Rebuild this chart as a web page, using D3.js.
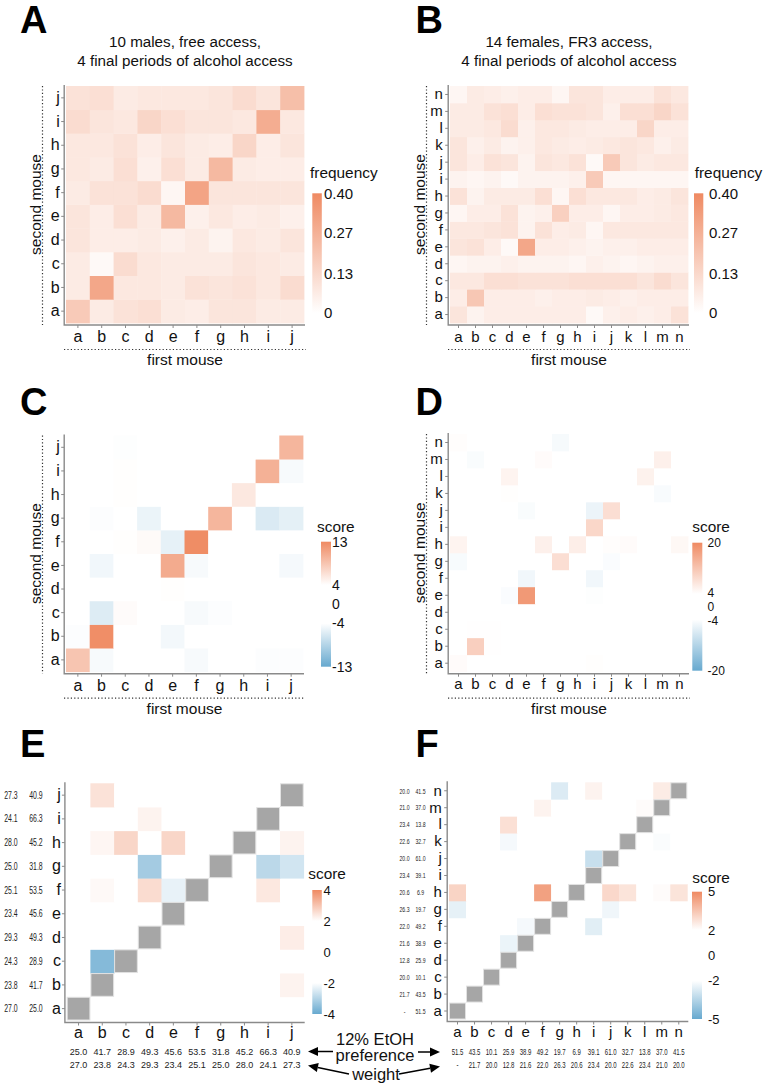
<!DOCTYPE html>
<html><head><meta charset="utf-8">
<script src="https://cdn.jsdelivr.net/npm/d3@7"></script>
<style>body{margin:0;background:#fff}svg{display:block}text{font-family:"Liberation Sans",Arial,sans-serif}</style>
</head><body><svg id="c" width="768" height="1088"></svg>
<script>
// ---------- data ----------
const mice10 = ["a","b","c","d","e","f","g","h","i","j"];
const mice14 = ["a","b","c","d","e","f","g","h","i","j","k","l","m","n"];

// rows = second mouse (a..), columns = first mouse (a..)
const freqA = [
 [0.18,0.07,0.10,0.11,0.07,0.06,0.09,0.09,0.07,0.07],
 [0.07,0.30,0.08,0.08,0.07,0.10,0.09,0.10,0.08,0.12],
 [0.07,0.02,0.12,0.08,0.07,0.07,0.07,0.09,0.08,0.07],
 [0.09,0.06,0.06,0.07,0.05,0.07,0.04,0.08,0.07,0.09],
 [0.09,0.06,0.11,0.07,0.24,0.05,0.08,0.06,0.07,0.05],
 [0.07,0.10,0.10,0.12,0.03,0.31,0.09,0.09,0.09,0.09],
 [0.08,0.07,0.11,0.05,0.11,0.07,0.24,0.07,0.06,0.06],
 [0.08,0.08,0.10,0.06,0.09,0.07,0.06,0.14,0.06,0.09],
 [0.12,0.09,0.08,0.14,0.11,0.09,0.09,0.08,0.28,0.08],
 [0.10,0.11,0.07,0.08,0.08,0.08,0.09,0.12,0.09,0.22]
];
const freqB = [
 [0.09,0.04,0.06,0.06,0.06,0.06,0.06,0.06,0.02,0.05,0.06,0.05,0.06,0.10],
 [0.06,0.19,0.06,0.06,0.06,0.05,0.06,0.06,0.07,0.06,0.05,0.06,0.06,0.06],
 [0.08,0.08,0.11,0.11,0.10,0.10,0.10,0.11,0.11,0.11,0.11,0.09,0.12,0.09],
 [0.03,0.04,0.04,0.05,0.04,0.04,0.04,0.03,0.05,0.04,0.03,0.04,0.05,0.05],
 [0.09,0.10,0.06,0.02,0.30,0.06,0.06,0.05,0.04,0.05,0.05,0.06,0.06,0.06],
 [0.08,0.08,0.09,0.10,0.04,0.10,0.06,0.07,0.03,0.08,0.08,0.08,0.08,0.08],
 [0.03,0.06,0.06,0.10,0.04,0.05,0.16,0.06,0.06,0.03,0.06,0.06,0.07,0.08],
 [0.10,0.04,0.07,0.07,0.07,0.11,0.03,0.11,0.08,0.08,0.08,0.06,0.07,0.09],
 [0.04,0.03,0.04,0.02,0.04,0.04,0.04,0.05,0.18,0.03,0.03,0.03,0.03,0.03],
 [0.09,0.06,0.10,0.09,0.04,0.09,0.08,0.10,0.02,0.18,0.09,0.07,0.08,0.08],
 [0.09,0.05,0.07,0.04,0.05,0.08,0.07,0.06,0.07,0.08,0.09,0.08,0.05,0.07],
 [0.07,0.07,0.08,0.12,0.05,0.08,0.08,0.07,0.06,0.06,0.06,0.14,0.06,0.06],
 [0.07,0.07,0.10,0.11,0.06,0.11,0.10,0.10,0.09,0.05,0.11,0.11,0.14,0.10],
 [0.03,0.07,0.06,0.05,0.06,0.06,0.03,0.09,0.09,0.06,0.06,0.06,0.10,0.08]
];
const scoreC = [
 [8.5,-4.5,0,0,0,-4.5,0,0,-4.2,-4.2],
 [-4.2,12.7,0,0,-4.7,0,0,0,0,0],
 [0,-6,4.3,0,0,-4.5,-4.2,0,0,0],
 [0,0,0,0,4.1,0,0,0,0,0],
 [0,-4.8,0,0,10.5,-4.5,0,0,0,-4.6],
 [0,0,4.1,4.4,-5.5,12.8,0,0,0,0],
 [0,-4.2,0,-5.2,0,0,9.6,0,-6.2,-5.6],
 [0,0,4.1,0,0,0,0,5.8,0,0],
 [0,0,4.1,0,0,0,0,0,10,-4.5],
 [0,0,-4.1,0,0,0,0,0,0,9.6]
];
const scoreD = [
 [4.5,0,0,0,0,0,0,0,4.2,0,0,0,0,0],
 [0,10.5,4.1,0,0,0,0,0,0,0,0,0,0,0],
 [0,4.1,4.1,0,0,0,0,0,0,0,0,0,0,0],
 [0,0,0,0,0,0,0,0,0,0,0,0,0,0],
 [0,0,0,-4.5,18,0,0,0,-4.2,0,0,0,0,0],
 [0,0,0,0,-5.5,0,0,0,-5.5,0,0,0,0,0],
 [-4.8,0,0,0,0,0,8.5,0,0,-4.5,0,0,0,0],
 [5.5,0,0,0,0,6,0,6.3,0,4.3,4.5,0,0,5],
 [0,0,0,0,0,0,0,0,9.5,0,0,0,0,0],
 [0,0,0,0,-4.6,0,0,0,-6,8.5,0,0,0,0],
 [0,0,0,4.2,0,0,0,0,0,0,0,0,-4.7,0],
 [0,0,0,5.5,0,0,0,0,0,0,0,5.8,0,0],
 [0,-4.6,0,0,0,4.5,0,0,0,0,0,0,6,0],
 [4.3,0,0,0,0,0,-5,0,0,0,0,0,0,0]
];
const scoreE = [
 [null,0,0,0,0,0,0,0,0,0],
 [0,null,0,0,0,0,0,0,0,2.2],
 [0,-3.6,null,0,0,0,0,0,0,0],
 [0,0,0,null,0,0,0,0,0,2.3],
 [0,0,0,0,null,0,0,0,0,0],
 [0,2.1,0,2.6,-2.3,null,0,0,2.4,0],
 [0,0,0,-3.2,0,0,null,0,-2.9,-2.6],
 [0,2.15,2.7,0,2.7,0,0,null,0,2.2],
 [0,0,0,2.2,0,0,0,0,null,0],
 [0,2.5,0,0,0,0,0,0,0,null]
];
const scoreF = [
 [null,0,0,0,0,0,0,0,0,0,0,0,0,0],
 [0,null,0,0,0,0,0,0,0,0,0,0,0,0],
 [0,0,null,0,0,0,0,0,0,0,0,0,0,0],
 [0,0,0,null,0,0,0,0,0,0,0,0,0,0],
 [0,0,0,-2.4,null,0,0,0,0,0,0,0,0,0],
 [0,0,0,0,-2.2,null,0,0,-2.6,0,0,0,0,0],
 [-2.5,0,0,0,0,0,null,0,0,-2.3,0,0,0,0],
 [3.1,0,0,0,0,4.4,0,null,0,3.0,2.7,0,2.1,2.7],
 [0,0,0,0,0,0,0,0,null,0,0,0,0,0],
 [0,0,0,0,0,0,0,0,-3.1,null,0,0,0,0],
 [0,0,0,-2.2,0,0,0,0,0,0,null,0,-2.1,0],
 [0,0,0,2.8,0,0,0,0,0,0,0,null,0,0],
 [0,0,0,0,0,2.3,0,0,0,0,0,2.1,null,0],
 [0,0,0,0,0,0,-2.7,0,2.3,0,0,0,2.5,null]
];
const weightE = ["27.0","23.8","24.3","29.3","23.4","25.1","25.0","28.0","24.1","27.3"];
const prefE   = ["25.0","41.7","28.9","49.3","45.6","53.5","31.8","45.2","66.3","40.9"];
const weightF = ["-","21.7","20.0","12.8","21.6","22.0","26.3","20.6","23.4","20.0","22.6","23.4","21.0","20.0"];
const prefF   = ["51.5","43.5","10.1","25.9","38.9","49.2","19.7","6.9","39.1","61.0","32.7","13.8","37.0","41.5"];
const freqTicks = [0, 0.13, 0.27, 0.40];
const ticksC = [-13,-4,0,4,13];
const ticksD = [-20,-4,0,4,20];
const ticksE = [-4,-2,0,2,4];
const ticksF = [-5,-2,0,2,5];

// ---------- drawing ----------
const svg = d3.select("#c");
const defs = svg.append("defs");
const ORANGE = "#ef8a62", BLUE = "#67a9cf";
const freqColor = d3.scaleLinear().domain([0,0.4]).range(["#ffffff",ORANGE]).clamp(true);
const scoreColor = (m,t) => d3.scaleLinear().domain([-m,-t,t,m]).range([BLUE,"#ffffff","#ffffff",ORANGE]).clamp(true);

function panel(cfg){
  const g = svg.append("g");
  const x = d3.scaleBand().domain(cfg.cats).range([cfg.x0,cfg.x1]);
  const y = d3.scaleBand().domain(cfg.cats).range([cfg.y1,cfg.y0]);
  const cells = [];
  cfg.data.forEach((row,i)=>row.forEach((v,j)=>cells.push({r:cfg.cats[i],c:cfg.cats[j],v})));
  g.selectAll(null).data(cells.filter(d=>d.v!==null)).join("rect")
    .attr("x",d=>x(d.c)).attr("y",d=>y(d.r))
    .attr("width",x.bandwidth()+0.4).attr("height",y.bandwidth()+0.4)
    .attr("fill",d=>cfg.color(d.v));
  g.selectAll(null).data(cells.filter(d=>d.v===null)).join("rect")
    .attr("x",d=>x(d.c)+0.5).attr("y",d=>y(d.r)+0.5)
    .attr("width",x.bandwidth()-1).attr("height",y.bandwidth()-1)
    .attr("fill","#a6a6a6").attr("stroke","#e2e2e2").attr("stroke-width",1);
  const ax = cfg.x0-1.8, ay = cfg.y1+2;
  const gy = g.append("g").attr("transform",`translate(${ax},0)`)
    .call(d3.axisLeft(y).tickSize(3).tickPadding(cfg.ypad));
  const gx = g.append("g").attr("transform",`translate(0,${ay})`)
    .call(d3.axisBottom(x).tickSize(3).tickPadding(cfg.xpad));
  [gx,gy].forEach(a=>{
    a.select(".domain").remove();
    a.attr("font-family",null).attr("font-size",cfg.tfs);
    a.selectAll("line").attr("stroke","#8a8a8a");
    a.selectAll("text").attr("fill","#111");
  });
  g.append("path").attr("d",`M${ax},${cfg.y0-1}V${ay}H${cfg.x1+1}`)
    .attr("fill","none").attr("stroke","#8a8a8a").attr("stroke-width",1.4);
  // panel letter
  svg.append("text").attr("x",cfg.lx).attr("y",cfg.ly).attr("font-size",38)
    .attr("font-weight","bold").text(cfg.letter);
  if(cfg.titles){
    const cx=(cfg.x0+cfg.x1)/2;
    cfg.titles.forEach((t,i)=>svg.append("text").attr("x",cx).attr("y",46.5+i*19.3)
      .attr("text-anchor","middle").attr("font-size",15.2).attr("fill","#111").text(t));
  }
  if(cfg.dotted){
    const dx = cfg.x0-23.5, dy = cfg.y1+26.5;
    g.append("line").attr("x1",dx).attr("x2",dx).attr("y1",cfg.y0).attr("y2",cfg.y1+2)
      .attr("stroke","#333").attr("stroke-width",1.2).attr("stroke-dasharray","1.2,2.2");
    g.append("line").attr("x1",cfg.x0-2).attr("x2",cfg.x1+2).attr("y1",dy).attr("y2",dy)
      .attr("stroke","#333").attr("stroke-width",1.2).attr("stroke-dasharray","1.2,2.2");
    g.append("text").attr("transform",`translate(${dx-1.2},${(cfg.y0+cfg.y1)/2}) rotate(-90)`)
      .attr("text-anchor","middle").attr("font-size",15.5).attr("fill","#111").text("second mouse");
    g.append("text").attr("x",(cfg.x0+cfg.x1)/2).attr("y",dy+15.8)
      .attr("text-anchor","middle").attr("font-size",15.5).attr("fill","#111").text("first mouse");
  }
  // legend
  const L = cfg.legend;
  svg.append("text").attr("x",L.tx).attr("y",L.ty).attr("font-size",15.4).attr("fill","#111").text(L.title);
  const bs = d3.scaleLinear().domain(d3.extent(cfg.color.domain())).range([L.yb,L.yt]);
  const gid = "grad"+cfg.letter;
  const lg = defs.append("linearGradient").attr("id",gid).attr("x1",0).attr("y1",1).attr("x2",0).attr("y2",0);
  const [dmin,dmax] = bs.domain();
  lg.selectAll("stop").data(cfg.color.domain()).join("stop")
    .attr("offset",d=>(d-dmin)/(dmax-dmin)).attr("stop-color",d=>cfg.color(d));
  svg.append("rect").attr("x",L.bx).attr("y",L.yt).attr("width",L.bw).attr("height",L.yb-L.yt)
    .attr("fill",`url(#${gid})`);
  const nudge = L.nudge || (()=>0);
  svg.selectAll(null).data(L.ticks).join("text").attr("x",L.lx).attr("y",d=>bs(d)+nudge(d)).attr("dy","0.36em")
    .attr("font-size",L.fs).attr("fill","#111").text(L.fmt);
  return {g,x,y};
}

const fmtF = d=> d===0?"0":d.toFixed(2);
const fmtS = d=> String(d);

panel({letter:"A",lx:20,ly:33,cats:mice10,data:freqA,color:freqColor,x0:66,x1:304,y0:86,y1:323,tfs:16,ypad:1.5,xpad:2.5,
  titles:["10 males, free access,","4 final periods of alcohol access"],dotted:true,
  legend:{title:"frequency",tx:310,ty:178,bx:312.3,bw:9.5,yt:193.3,yb:313,lx:324,fs:15,ticks:freqTicks,fmt:fmtF}});
panel({letter:"B",lx:415.5,ly:33,cats:mice14,data:freqB,color:freqColor,x0:450,x1:688,y0:86,y1:323,tfs:15,ypad:2.4,xpad:3,
  titles:["14 females, FR3 access,","4 final periods of alcohol access"],dotted:true,
  legend:{title:"frequency",tx:694.7,ty:178,bx:694,bw:9.3,yt:193.3,yb:313,lx:709,fs:15,ticks:freqTicks,fmt:fmtF}});
panel({letter:"C",lx:20,ly:415,cats:mice10,data:scoreC,color:scoreColor(13,4),x0:66,x1:303,y0:435.5,y1:671.7,tfs:16,ypad:1.5,xpad:2.5,dotted:true,
  legend:{title:"score",tx:317,ty:532,bx:321,bw:10,yt:541.7,yb:666.7,lx:332,fs:14,ticks:ticksC,fmt:fmtS}});
panel({letter:"D",lx:415.5,ly:415,cats:mice14,data:scoreD,color:scoreColor(20,4),x0:450,x1:688,y0:434,y1:671.7,tfs:15,ypad:2.4,xpad:1.9,dotted:true,
  legend:{title:"score",tx:692.3,ty:532,bx:692.3,bw:10,yt:542.7,yb:670.7,lx:707.5,fs:12,ticks:ticksD,fmt:fmtS,
    nudge:d=>d===4?-1.2:(d===-4?1.2:0)}});
const E = panel({letter:"E",lx:20,ly:756.7,cats:mice10,data:scoreE,color:scoreColor(4,2),x0:66.7,x1:303.7,y0:783.3,y1:1020.5,tfs:16,ypad:1,xpad:1,
  legend:{title:"score",tx:308.3,ty:879.3,bx:312.3,bw:9.5,yt:890,yb:1014,lx:323.5,fs:13,ticks:ticksE,fmt:fmtS}});
const F = panel({letter:"F",lx:415.5,ly:756.7,cats:mice14,data:scoreF,color:scoreColor(5,2),x0:449,x1:687.3,y0:782.3,y1:1019.5,tfs:15,ypad:2.4,xpad:2.3,
  legend:{title:"score",tx:692.3,ty:883.3,bx:692,bw:10,yt:891.7,yb:1019,lx:708,fs:13,ticks:ticksF,fmt:fmtS}});

// side numbers (weight, preference), drawn narrow like the original
function numText(cx,cy,t,fs,sx){
  const el = svg.append("text").attr("x",cx).attr("y",cy)
    .attr("text-anchor","middle").attr("dy","0.36em").attr("font-size",fs).attr("fill","#222").text(t);
  if(sx!==1){
    const w = el.node().getComputedTextLength();
    el.attr("textLength",w*sx).attr("lengthAdjust","spacingAndGlyphs");
  }
}
mice10.forEach((m,i)=>{
  const cy = E.y(m)+E.y.bandwidth()/2;
  numText(11,cy,weightE[i],10,0.69);
  numText(36,cy,prefE[i],10,0.69);
  const cx = E.x(m)+E.x.bandwidth()/2;
  numText(cx,1051.5,prefE[i],9,1);
  numText(cx,1064.5,weightE[i],9,1);
});
mice14.forEach((m,i)=>{
  const cy = F.y(m)+F.y.bandwidth()/2;
  numText(404.5,cy,weightF[i],7.6,0.68);
  numText(420.5,cy,prefF[i],7.6,0.68);
  const cx = F.x(m)+F.x.bandwidth()/2;
  numText(cx,1051.5,prefF[i],8.6,0.7);
  numText(cx,1064.5,weightF[i],8.6,0.7);
});

// annotation between E and F
[["12% EtOH",1045],["preference",1061],["weight",1079.5]].forEach(([t,yy])=>
  svg.append("text").attr("x",t==="weight"?376:375).attr("y",yy).attr("text-anchor","middle")
    .attr("font-size",16.5).attr("fill","#111").text(t));
function arrow(x1,y1,x2,y2){
  const a = Math.atan2(y2-y1,x2-x1), L=10, W=4.6;
  const bx = x2-L*Math.cos(a), by = y2-L*Math.sin(a);
  svg.append("line").attr("x1",x1).attr("y1",y1).attr("x2",bx).attr("y2",by).attr("stroke","#000").attr("stroke-width",1.5);
  svg.append("path").attr("d",`M${x2},${y2}L${bx-W*Math.sin(a)},${by+W*Math.cos(a)}L${bx+W*Math.sin(a)},${by-W*Math.cos(a)}Z`).attr("fill","#000");
}
arrow(333,1051.5,308,1051.5);
arrow(418,1052,440,1052);
arrow(349,1074,308,1065.5);
arrow(399,1074,440,1066.5);
</script></body></html>
